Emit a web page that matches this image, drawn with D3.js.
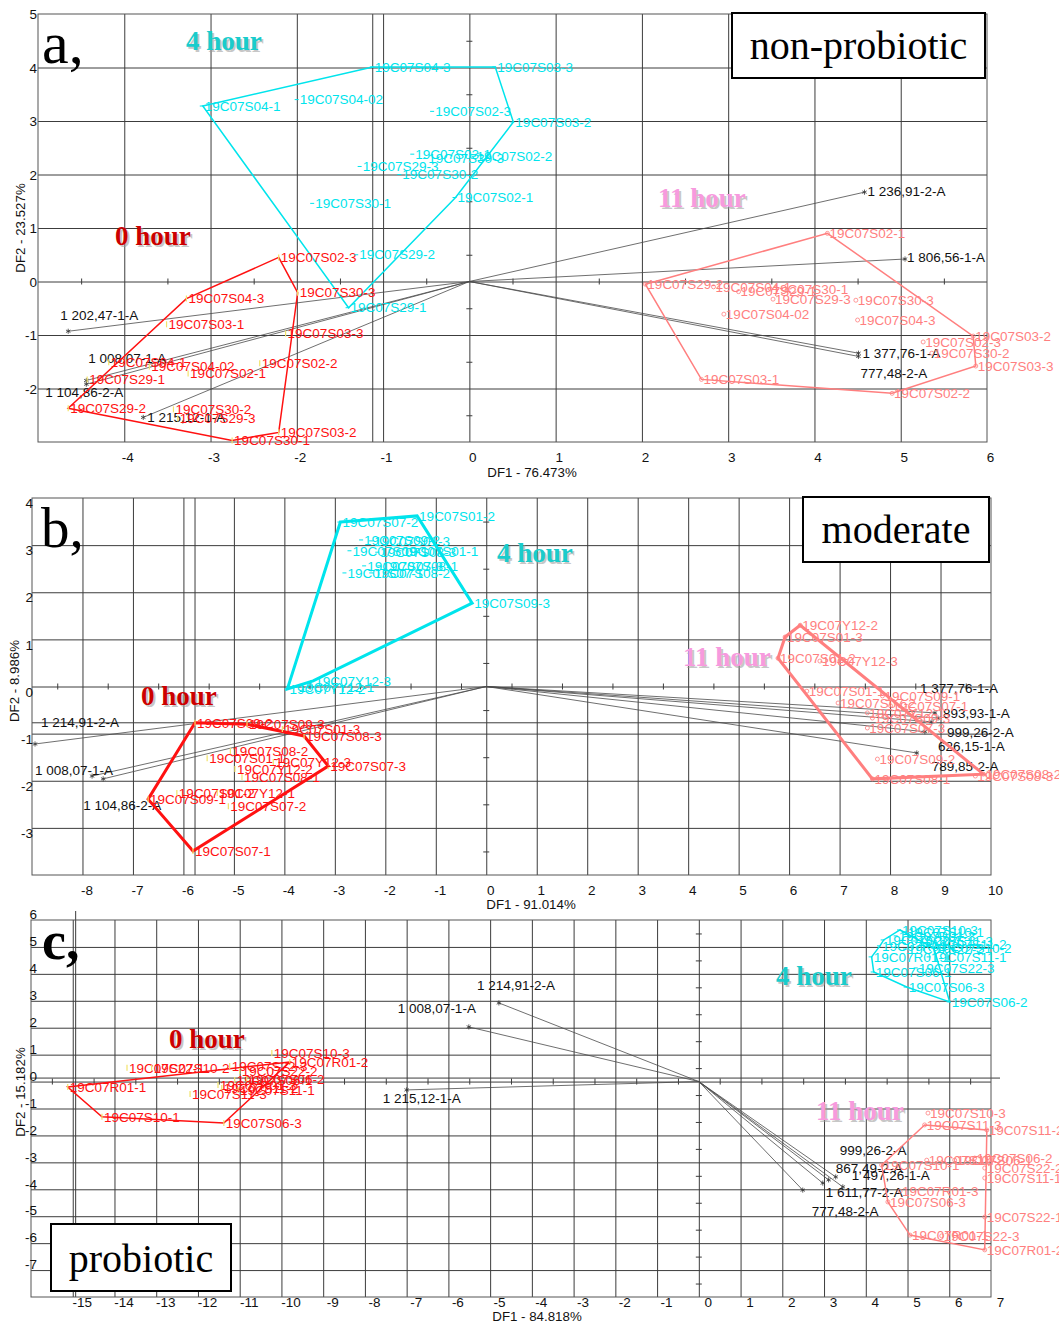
<!DOCTYPE html>
<html>
<head>
<meta charset="utf-8">
<script src="https://cdn.jsdelivr.net/npm/d3@7"></script>
<style>
  body { margin: 0; background: #fff; }
  svg { display: block; }
</style>
</head>
<body>
<svg id="chart" width="1059" height="1325"></svg>
<script>
// ---------------- Panel a: non-probiotic ----------------
const aXTicks = [-4, -3, -2, -1, 0, 1, 2, 3, 4, 5, 6];
const aYTicks = [-2, -1, 0, 1, 2, 3, 4, 5];
const aHour0 = [
  ["19C07S02-3", -2.21, 0.45], ["19C07S30-3", -1.99, -0.21], ["19C07S03-2", -2.21, -2.82],
  ["19C07S30-1", -2.75, -2.97], ["19C07S29-2", -4.65, -2.37], ["19C07S04-3", -3.28, -0.32],
  ["19C07S03-1", -3.51, -0.80], ["19C07S03-3", -2.13, -0.97], ["19C07S02-2", -2.43, -1.53],
  ["19C07S02-1", -3.26, -1.72], ["19C07S04-02", -3.71, -1.59], ["19C07S04-1", -4.18, -1.51],
  ["19C07S29-1", -4.43, -1.83], ["19C07S30-2", -3.43, -2.39], ["19C07S29-3", -3.38, -2.56]
];
const aHull0 = ["19C07S02-3", "19C07S30-3", "19C07S03-2", "19C07S30-1", "19C07S29-2", "19C07S04-3"];
const aHour4 = [
  ["19C07S04-1", -3.09, 3.28], ["19C07S04-3", -1.12, 4.01], ["19C07S03-3", 0.30, 4.01],
  ["19C07S03-2", 0.51, 2.98], ["19C07S02-1", -0.16, 1.57], ["19C07S29-1", -1.40, -0.49],
  ["19C07S04-02", -1.99, 3.40], ["19C07S02-3", -0.42, 3.18], ["19C07S03-1", -0.65, 2.38],
  ["19C07S30-3", -0.50, 2.30], ["19C07S02-2", 0.06, 2.34], ["19C07S29-3", -1.26, 2.15],
  ["19C07S30-2", -0.80, 2.00], ["19C07S30-1", -1.81, 1.46], ["19C07S29-2", -1.30, 0.50]
];
const aHull4 = ["19C07S04-1", "19C07S04-3", "19C07S03-3", "19C07S03-2", "19C07S02-1", "19C07S29-1"];
const aHour11 = [
  ["19C07S02-1", 4.15, 0.90], ["19C07S29-2", 2.04, -0.05], ["19C07S03-1", 2.69, -1.83],
  ["19C07S02-2", 4.90, -2.09], ["19C07S03-3", 5.87, -1.58], ["19C07S03-2", 5.84, -1.02],
  ["19C07S30-2", 5.36, -1.34], ["19C07S02-3", 5.26, -1.13], ["19C07S30-3", 4.48, -0.35],
  ["19C07S04-3", 4.50, -0.72], ["19C07S04-02", 2.95, -0.61], ["19C07S04-1", 2.83, -0.10],
  ["19C07S29-1", 3.12, -0.19], ["19C07S30-1", 3.49, -0.14], ["19C07S29-3", 3.52, -0.33]
];
const aHull11 = ["19C07S02-1", "19C07S03-2", "19C07S03-3", "19C07S02-2", "19C07S03-1", "19C07S29-2"];
const aVectors = [
  ["1 202,47-1-A", -4.65, -0.93], ["1 008,07-1-A", -4.44, -1.85], ["1 104,86-2-A", -4.44, -1.92],
  ["1 215,12-1-A", -3.78, -2.54], ["1 236,91-2-A", 4.58, 1.67], ["1 806,56-1-A", 5.05, 0.42],
  ["1 377,76-1-A", 4.51, -1.34], ["777,48-2-A", 4.51, -1.40]
];
const aRefX = [-1.12];
const aRefY = [];

// ---------------- Panel b: moderate ----------------
const bXTicks = [-8, -7, -6, -5, -4, -3, -2, -1, 0, 1, 2, 3, 4, 5, 6, 7, 8, 9, 10];
const bYTicks = [-3, -2, -1, 0, 1, 2, 3, 4];
const bHour0 = [
  ["19C07S09-2", -5.77, -0.77], ["19C07S09-3", -4.74, -0.80], ["19C07S08-3", -3.61, -1.05],
  ["19C07S07-3", -3.13, -1.69], ["19C07S07-1", -5.81, -3.49], ["19C07S09-1", -6.70, -2.39],
  ["19C07S01-3", -4.04, -0.90], ["19C07S08-2", -5.07, -1.37], ["19C07S01-1", -5.53, -1.52],
  ["19C07Y12-3", -4.22, -1.60], ["19C07Y12-2", -4.98, -1.75], ["19C07S08-1", -4.84, -1.92],
  ["19C07S01-2", -6.13, -2.26], ["19C07Y12-1", -5.33, -2.26], ["19C07S07-2", -5.11, -2.54]
];
const bHull0 = ["19C07S09-2", "19C07S09-3", "19C07S08-3", "19C07S07-3", "19C07S07-1", "19C07S09-1"];
const bHour4 = [
  ["19C07S07-2", -2.89, 3.49], ["19C07S01-2", -1.37, 3.62], ["19C07S09-3", -0.28, 1.77],
  ["19C07Y12-3", -3.43, 0.12], ["19C07Y12-1", -3.76, -0.01], ["19C07Y12-2", -3.94, -0.05],
  ["19C07S09-2", -2.46, 3.11], ["19C07S01-3", -2.26, 3.09], ["19C07S09-1", -2.69, 2.88],
  ["19C07S08-3", -2.14, 2.85], ["19C07S01-1", -1.70, 2.88], ["19C07S07-3", -2.40, 2.56],
  ["19C07S08-1", -2.10, 2.56], ["19C07S07-1", -2.79, 2.41], ["19C07S08-2", -2.26, 2.41]
];
const bHull4 = ["19C07S07-2", "19C07S01-2", "19C07S09-3", "19C07Y12-3", "19C07Y12-2"];
const bHour11 = [
  ["19C07Y12-2", 6.22, 1.30], ["19C07S01-3", 5.92, 1.05], ["19C07S01-2", 5.78, 0.60],
  ["19C07Y12-3", 6.61, 0.54], ["19C07S01-1", 6.35, -0.10], ["19C07S09-1", 7.85, -0.20],
  ["19C07S07-2", 6.97, -0.35], ["19C07S07-1", 8.01, -0.41], ["19C07S09-3", 7.65, -0.67],
  ["19C07Y12-1", 7.55, -0.56], ["19C07S07-3", 7.55, -0.88], ["19C07S09-2", 7.75, -1.54],
  ["19C07S08-1", 7.65, -1.96], ["19C07S08-2", 9.85, -1.86], ["19C07S08-3", 9.69, -1.90]
];
const bHull11 = ["19C07Y12-2", "19C07S08-2", "19C07S08-1", "19C07S01-2", "19C07S01-3"];
const bVectors = [
  ["1 214,91-2-A", -8.94, -1.22], ["1 008,07-1-A", -7.81, -1.90], ["1 104,86-2-A", -7.59, -1.96],
  ["1 377,76-1-A", 8.89, -0.56], ["893,93-1-A", 8.95, -0.67], ["999,26-2-A", 8.83, -0.75],
  ["626,15-1-A", 8.69, -0.96], ["789,85-2-A", 8.53, -1.41]
];
const bRefX = [-5.77];
const bRefY = [-0.77];

// ---------------- Panel c: probiotic ----------------
const cXTicks = [-15, -14, -13, -12, -11, -10, -9, -8, -7, -6, -5, -4, -3, -2, -1, 0, 1, 2, 3, 4, 5, 6, 7];
const cYTicks = [-7, -6, -5, -4, -3, -2, -1, 0, 1, 2, 3, 4, 5, 6];
const cHour0 = [
  ["19C07R01-1", -15.12, -0.20], ["19C07S10-1", -14.30, -1.31], ["19C07S06-3", -11.38, -1.54],
  ["19C07R01-2", -9.80, 0.73], ["19C07S10-3", -10.23, 1.06], ["19C07S22-1", -13.70, 0.51],
  ["19C07S10-2", -13.11, 0.51], ["19C07S22-3", -11.24, 0.58], ["19C07S22-2", -11.00, 0.39],
  ["19C07S06-1", -11.12, 0.06], ["19C07S06-2", -10.83, 0.10], ["19C07R01-3", -11.52, -0.13],
  ["19C07S11-2", -11.43, -0.24], ["19C07S11-1", -11.04, -0.31], ["19C07S11-3", -12.19, -0.46]
];
const cHull0 = ["19C07R01-1", "19C07R01-2", "19C07S06-3", "19C07S10-1"];
const cHour4 = [
  ["19C07S10-3", 4.82, 5.63], ["19C07S10-1", 4.96, 5.56], ["19C07R01-3", 4.74, 5.41],
  ["19C07S22-1", 4.43, 5.26], ["19C07S11-3", 5.20, 5.22], ["19C07S11-2", 5.53, 5.11],
  ["19C07R01-2", 4.34, 5.04], ["19C07S10-2", 5.63, 4.96], ["19C07S22-2", 4.96, 4.92],
  ["19C07S11-1", 5.53, 4.63], ["19C07R01-1", 4.14, 4.63], ["19C07S06-1", 4.19, 4.07],
  ["19C07S22-3", 5.22, 4.22], ["19C07S06-3", 4.98, 3.51], ["19C07S06-2", 6.01, 2.96]
];
const cHull4 = ["19C07R01-1", "19C07R01-2", "19C07S22-1", "19C07S10-3", "19C07S10-2", "19C07S06-2", "19C07S06-3", "19C07S06-1"];
const cHour11 = [
  ["19C07S10-3", 5.49, -1.17], ["19C07S11-3", 5.41, -1.61], ["19C07S11-2", 6.90, -1.80],
  ["19C07S10-1", 4.38, -3.10], ["19C07S10-2", 5.46, -2.92], ["19C07S06-1", 6.13, -2.92],
  ["19C07S06-2", 6.61, -2.84], ["19C07S22-2", 6.85, -3.21], ["19C07S11-1", 6.85, -3.58],
  ["19C07R01-3", 4.82, -4.07], ["19C07S06-3", 4.53, -4.47], ["19C07S22-1", 6.85, -5.03],
  ["19C07R01-1", 5.06, -5.70], ["19C07S22-3", 5.82, -5.73], ["19C07R01-2", 6.85, -6.25]
];
const cHull11 = ["19C07S11-3", "19C07S11-2", "19C07R01-2", "19C07R01-1", "19C07S06-3", "19C07S10-1"];
const cVectors = [
  ["1 214,91-2-A", -4.79, 2.92], ["1 008,07-1-A", -5.51, 2.03], ["1 215,12-1-A", -7.00, -0.31],
  ["999,26-2-A", 3.28, -3.54], ["867,49-2-A", 3.11, -3.65], ["1 497,26-1-A", 3.45, -3.91],
  ["1 611,77-2-A", 2.97, -3.77], ["777,48-2-A", 2.49, -4.03]
];
const cRefX = [-14.93];
const cRefY = [0.13];

// ---------------- styling & layout ----------------
const SANS = '"Liberation Sans", Arial, Helvetica, sans-serif';
const SERIF = '"Liberation Serif", "Times New Roman", Times, serif';
const LABEL_SIZE = 13.5;
const COL = {
  h0: "#ff1111", h4: "#00e4ec", h11: "#ff7f7f",
  t0: "#cc0000", t4: "#19cccc", t11: "#f79ade",
  grid: "#3c3c3c", vec: "#4a4a4a", text: "#111"
};

const panels = [
  {
    xDomain: [-5, 6], yDomain: [-3, 5], left: 38, right: 987, top: 14, bottom: 442,
    xTicks: aXTicks, yTicks: aYTicks, xLabelY: 457, xLabelDx: 3, yLabelX: 37, yLabelDy: 0,
    xTitle: "DF1 - 76.473%", xTitlePos: [532, 472], yTitle: "DF2 - 23.527%", yTitlePos: [20, 228],
    hullWidth: 1.5, refX: aRefX, refY: aRefY, refOver: 0,
    groups: [
      { pts: aHour0, hull: aHull0, kind: "h0" },
      { pts: aHour4, hull: aHull4, kind: "h4" },
      { pts: aHour11, hull: aHull11, kind: "h11" }
    ],
    vectors: aVectors,
    nudge: {
      "1 202,47-1-A": [-8, -16], "1 008,07-1-A": [2, -22], "1 104,86-2-A": [-41, 8],
      "1 215,12-1-A": [4, 0], "1 236,91-2-A": [3, -1], "1 806,56-1-A": [2, -2],
      "1 377,76-1-A": [4, 0], "777,48-2-A": [2, 17]
    },
    titles: [
      { text: "4 hour", x: 186, y: 50, kind: "t4" },
      { text: "0 hour", x: 115, y: 245, kind: "t0" },
      { text: "11 hour", x: 658, y: 207, kind: "t11" }
    ],
    letter: { text: "a,", x: 42, y: 63, size: 60, bold: false },
    box: { x: 732, y: 13, w: 253, h: 65, text: "non-probiotic", ty: 59 }
  },
  {
    xDomain: [-9, 10], yDomain: [-4, 4], left: 32, right: 991, top: 498, bottom: 875,
    xTicks: bXTicks, yTicks: bYTicks, xLabelY: 890, xLabelDx: 4, yLabelX: 33, yLabelDy: 5,
    xTitle: "DF1 - 91.014%", xTitlePos: [531, 904], yTitle: "DF2 - 8.986%", yTitlePos: [14, 681],
    hullWidth: 3, refX: bRefX, refY: bRefY, refOver: 0,
    groups: [
      { pts: bHour0, hull: bHull0, kind: "h0" },
      { pts: bHour4, hull: bHull4, kind: "h4" },
      { pts: bHour11, hull: bHull11, kind: "h11" }
    ],
    vectors: bVectors,
    nudge: {
      "1 214,91-2-A": [6, -22], "1 008,07-1-A": [-57, -6], "1 104,86-2-A": [-20, 26],
      "1 377,76-1-A": [-15, -25], "893,93-1-A": [5, -5], "999,26-2-A": [15, 10],
      "626,15-1-A": [13, 15], "789,85-2-A": [15, 13]
    },
    titles: [
      { text: "4 hour", x: 497, y: 562, kind: "t4" },
      { text: "11 hour", x: 683, y: 666, kind: "t11" },
      { text: "0 hour", x: 141, y: 705, kind: "t0" }
    ],
    letter: { text: "b,", x: 41, y: 547, size: 57, bold: false },
    box: { x: 803, y: 497, w: 186, h: 65, text: "moderate", ty: 543 }
  },
  {
    xDomain: [-16, 7], yDomain: [-8, 6], left: 31, right: 991, top: 920, bottom: 1297,
    xTicks: cXTicks, yTicks: cYTicks, xLabelY: 1302, xLabelDx: 9, yLabelX: 37, yLabelDy: -6,
    xTitle: "DF1 - 84.818%", xTitlePos: [537, 1316], yTitle: "DF2 - 15.182%", yTitlePos: [20, 1092],
    hullWidth: 1.5, refX: cRefX, refY: cRefY, refOver: 9,
    groups: [
      { pts: cHour0, hull: cHull0, kind: "h0" },
      { pts: cHour4, hull: cHull4, kind: "h4" },
      { pts: cHour11, hull: cHull11, kind: "h11" }
    ],
    vectors: cVectors,
    nudge: {
      "1 214,91-2-A": [-22, -18], "1 008,07-1-A": [-71, -19], "1 215,12-1-A": [-24, 8],
      "999,26-2-A": [4, -27], "867,49-2-A": [7, -12], "1 497,26-1-A": [9, -12],
      "1 611,77-2-A": [3, 9], "777,48-2-A": [9, 21]
    },
    titles: [
      { text: "0 hour", x: 169, y: 1048, kind: "t0" },
      { text: "4 hour", x: 776, y: 985, kind: "t4" },
      { text: "11 hour", x: 816, y: 1120, kind: "t11" }
    ],
    letter: { text: "c,", x: 42, y: 959, size: 54, bold: true },
    box: { x: 51, y: 1224, w: 180, h: 67, text: "probiotic", ty: 1272 }
  }
];

const svg = d3.select("#chart");
svg.append("rect").attr("width", 1059).attr("height", 1325).attr("fill", "#fff");

function drawPanel(p) {
  const x = d3.scaleLinear().domain(p.xDomain).range([p.left, p.right]);
  const y = d3.scaleLinear().domain(p.yDomain).range([p.bottom, p.top]);
  const g = svg.append("g");
  const W = p.right - p.left, H = p.bottom - p.top;

  // grid lines at every integer
  const gridX = d3.range(p.xDomain[0] + 1, p.xDomain[1]);
  const gridY = d3.range(p.yDomain[0] + 1, p.yDomain[1]);
  const gx = g.append("g").attr("transform", `translate(0,${p.bottom})`)
    .call(d3.axisBottom(x).tickValues(gridX).tickSize(-H).tickFormat(""));
  const gy = g.append("g").attr("transform", `translate(${p.left},0)`)
    .call(d3.axisLeft(y).tickValues(gridY).tickSize(-W).tickFormat(""));
  [gx, gy].forEach(a => {
    a.select(".domain").remove();
    a.selectAll("line").attr("stroke", COL.grid).attr("stroke-width", 1);
  });

  // extra reference lines
  p.refX.forEach(v => g.append("line")
    .attr("x1", x(v)).attr("x2", x(v)).attr("y1", p.top - p.refOver).attr("y2", p.bottom)
    .attr("stroke", COL.grid).attr("stroke-width", 1));
  p.refY.forEach(v => g.append("line")
    .attr("x1", p.left).attr("x2", p.right + p.refOver).attr("y1", y(v)).attr("y2", y(v))
    .attr("stroke", COL.grid).attr("stroke-width", 1));

  // minor ticks along the zero axes
  const halfX = d3.range(p.xDomain[0] + 0.5, p.xDomain[1], 1);
  const halfY = d3.range(p.yDomain[0] + 0.5, p.yDomain[1], 1);
  const tx = g.append("g").attr("transform", `translate(0,${y(0) - 3})`)
    .call(d3.axisBottom(x).tickValues(halfX).tickSize(6).tickFormat(""));
  const ty = g.append("g").attr("transform", `translate(${x(0) + 3},0)`)
    .call(d3.axisLeft(y).tickValues(halfY).tickSize(6).tickFormat(""));
  [tx, ty].forEach(a => {
    a.select(".domain").remove();
    a.selectAll("line").attr("stroke", COL.grid).attr("stroke-width", 1);
  });

  // plot border
  g.append("rect").attr("x", p.left).attr("y", p.top).attr("width", W).attr("height", H)
    .attr("fill", "none").attr("stroke", "#555").attr("stroke-width", 1);

  // tick labels
  const ax = g.append("g").attr("transform", `translate(0,${p.xLabelY})`)
    .call(d3.axisBottom(x).tickValues(p.xTicks).tickSize(0).tickPadding(0).tickFormat(d => String(d)));
  ax.select(".domain").remove();
  ax.selectAll("text").attr("y", 0).attr("dy", "0.35em").attr("dx", p.xLabelDx)
    .attr("font-family", SANS).attr("font-size", 13.5).attr("fill", COL.text);
  const ay = g.append("g").attr("transform", `translate(${p.yLabelX},0)`)
    .call(d3.axisLeft(y).tickValues(p.yTicks).tickSize(0).tickPadding(0).tickFormat(d => String(d)));
  ay.select(".domain").remove();
  ay.selectAll("text").attr("x", 0).attr("y", p.yLabelDy).attr("dy", "0.35em")
    .attr("font-family", SANS).attr("font-size", 13.5).attr("fill", COL.text);

  // axis titles
  g.append("text").attr("x", p.xTitlePos[0]).attr("y", p.xTitlePos[1]).attr("dy", "0.35em")
    .attr("text-anchor", "middle").attr("font-family", SANS).attr("font-size", 13.3)
    .attr("fill", COL.text).text(p.xTitle);
  g.append("text").attr("transform", `translate(${p.yTitlePos[0]},${p.yTitlePos[1]}) rotate(-90)`)
    .attr("dy", "0.35em").attr("text-anchor", "middle").attr("font-family", SANS)
    .attr("font-size", 13.3).attr("fill", COL.text).text(p.yTitle);

  // biplot vectors
  const vg = g.append("g");
  p.vectors.forEach(([lab, vx, vy]) => {
    vg.append("line").attr("x1", x(0)).attr("y1", y(0)).attr("x2", x(vx)).attr("y2", y(vy))
      .attr("stroke", COL.vec).attr("stroke-width", 0.8);
    vg.append("path").attr("transform", `translate(${x(vx)},${y(vy)})`)
      .attr("d", d3.symbol(d3.symbolAsterisk, 18)())
      .attr("fill", "none").attr("stroke", "#333").attr("stroke-width", 0.8);
  });

  // group hulls
  const line = d3.line().x(d => x(d[1])).y(d => y(d[2])).curve(d3.curveLinearClosed);
  p.groups.forEach(grp => {
    const byName = new Map(grp.pts.map(d => [d[0], d]));
    g.append("path").datum(grp.hull.map(n => byName.get(n)))
      .attr("d", line).attr("fill", "none").attr("stroke", COL[grp.kind])
      .attr("stroke-width", p.hullWidth).attr("stroke-linejoin", "miter");
  });

  // sample markers & labels
  p.groups.forEach(grp => {
    const c = COL[grp.kind];
    const sg = g.append("g");
    grp.pts.forEach(([name, vx, vy]) => {
      const px = x(vx), py = y(vy);
      if (grp.kind === "h4") {
        sg.append("line").attr("x1", px - 3).attr("x2", px + 1).attr("y1", py).attr("y2", py)
          .attr("stroke", c).attr("stroke-width", 1);
      } else if (grp.kind === "h0") {
        sg.append("line").attr("x1", px).attr("x2", px).attr("y1", py - 3).attr("y2", py + 3)
          .attr("stroke", "#f2e36a").attr("stroke-width", 1.2);
      } else {
        sg.append("circle").attr("cx", px).attr("cy", py).attr("r", 2)
          .attr("fill", "none").attr("stroke", c).attr("stroke-width", 0.8);
      }
      sg.append("text").attr("x", px + 2).attr("y", py).attr("dy", "0.35em")
        .attr("font-family", SANS).attr("font-size", LABEL_SIZE).attr("fill", c).text(name);
    });
  });

  // vector labels
  p.vectors.forEach(([lab, vx, vy]) => {
    const n = p.nudge[lab] || [4, 0];
    vg.append("text").attr("x", x(vx) + n[0]).attr("y", y(vy) + n[1]).attr("dy", "0.35em")
      .attr("font-family", SANS).attr("font-size", LABEL_SIZE).attr("fill", "#111").text(lab);
  });

  // time-point titles with a soft drop shadow
  p.titles.forEach(t => {
    g.append("text").attr("x", t.x + 2).attr("y", t.y + 2)
      .attr("font-family", SERIF).attr("font-weight", "bold").attr("font-size", 27)
      .attr("fill", "#9a9a9a").attr("opacity", 0.55).text(t.text);
    g.append("text").attr("x", t.x).attr("y", t.y)
      .attr("font-family", SERIF).attr("font-weight", "bold").attr("font-size", 27)
      .attr("fill", COL[t.kind]).text(t.text);
  });

  // panel letter
  g.append("text").attr("x", p.letter.x).attr("y", p.letter.y)
    .attr("font-family", SERIF).attr("font-size", p.letter.size)
    .attr("font-weight", p.letter.bold ? "bold" : "normal").attr("fill", "#000").text(p.letter.text);

  // treatment box
  g.append("rect").attr("x", p.box.x).attr("y", p.box.y).attr("width", p.box.w).attr("height", p.box.h)
    .attr("fill", "#fff").attr("stroke", "#000").attr("stroke-width", 2);
  g.append("text").attr("x", p.box.x + p.box.w / 2).attr("y", p.box.ty)
    .attr("text-anchor", "middle").attr("font-family", SERIF).attr("font-size", 40)
    .attr("fill", "#000").text(p.box.text);
}

panels.forEach(drawPanel);
</script>
</body>
</html>
